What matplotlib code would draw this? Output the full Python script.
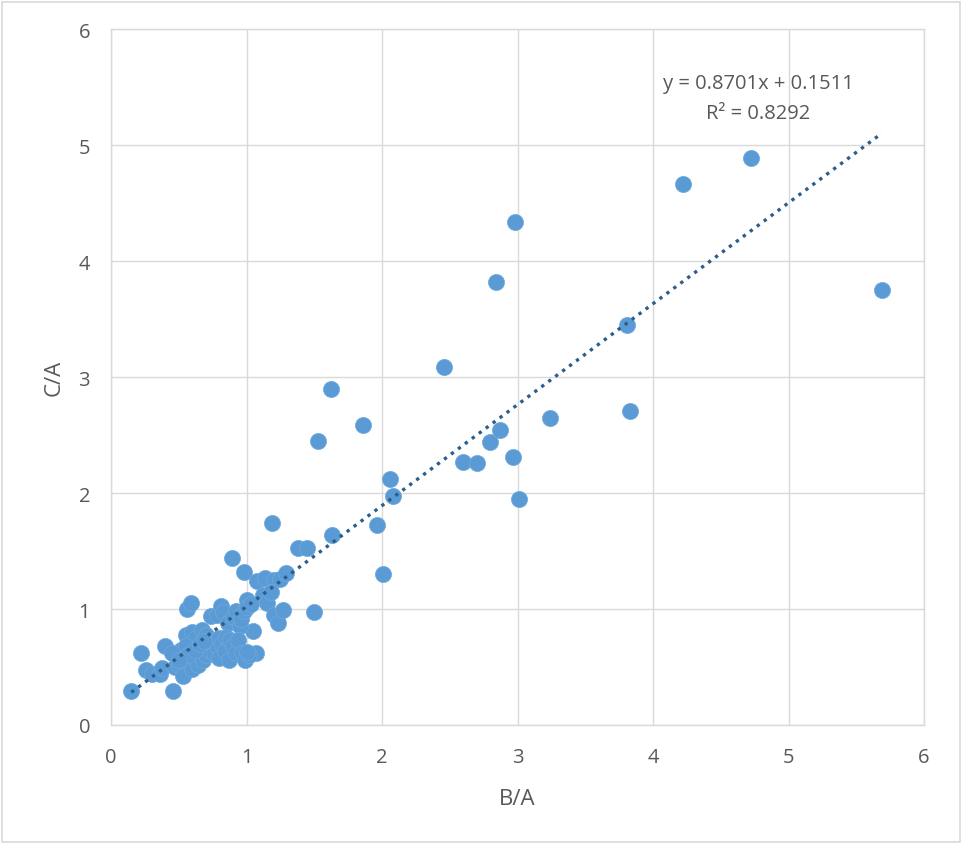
import matplotlib
matplotlib.use("Agg")
import matplotlib.pyplot as plt
from matplotlib.patches import Rectangle
import numpy as np

# Data: B/A (x) and C/A (y)
x_outer = [0.15, 0.22, 0.26, 0.30, 0.36, 0.38, 0.40, 0.46, 0.47, 0.50, 0.53,
           0.56, 0.59, 0.89, 0.98, 1.00, 1.19, 1.08, 1.14, 1.20, 1.25, 1.29,
           1.12, 1.15, 1.18, 1.20, 1.23, 1.27, 1.05, 1.07, 1.38, 1.45, 1.50,
           1.53, 1.62, 1.63, 1.86, 1.96, 2.01, 2.06, 2.08, 2.46, 2.60, 2.70,
           2.80, 2.84, 2.87, 2.97, 2.98, 3.01, 3.24, 3.81, 3.83, 4.22, 4.72, 5.69]
y_outer = [0.29, 0.62, 0.47, 0.44, 0.44, 0.49, 0.68, 0.29, 0.50, 0.52, 0.42,
           1.00, 1.05, 1.44, 1.32, 1.08, 1.74, 1.24, 1.27, 1.25, 1.26, 1.31,
           1.12, 1.05, 1.15, 0.95, 0.88, 0.99, 0.81, 0.62, 1.53, 1.53, 0.97,
           2.45, 2.90, 1.64, 2.59, 1.72, 1.30, 2.12, 1.97, 3.09, 2.27, 2.26,
           2.44, 3.82, 2.54, 2.31, 4.34, 1.95, 2.65, 3.45, 2.71, 4.66, 4.89, 3.75]
x_cluster = [0.55, 0.60, 0.63, 0.67, 0.70, 0.74, 0.78, 0.81, 0.83, 0.86, 0.90,
             0.92, 0.95, 0.96, 0.98, 1.00, 1.03, 0.58, 0.60, 0.62, 0.64, 0.65,
             0.67, 0.68, 0.70, 0.72, 0.73, 0.75, 0.76, 0.78, 0.80, 0.80, 0.82,
             0.84, 0.85, 0.87, 0.88, 0.90, 0.92, 0.94, 0.97, 0.99, 1.02, 0.52,
             0.55, 0.57, 0.45, 0.50, 0.62, 0.66, 0.69, 1.00]
y_cluster = [0.78, 0.80, 0.75, 0.82, 0.78, 0.94, 0.95, 1.03, 0.97, 0.88, 0.93,
             0.98, 0.85, 0.91, 0.98, 1.02, 1.04, 0.55, 0.48, 0.58, 0.52, 0.62,
             0.66, 0.56, 0.60, 0.70, 0.64, 0.72, 0.62, 0.68, 0.75, 0.58, 0.70,
             0.64, 0.76, 0.56, 0.73, 0.68, 0.62, 0.73, 0.62, 0.56, 0.60, 0.65,
             0.68, 0.60, 0.62, 0.56, 0.65, 0.70, 0.72, 0.63]

slope = 0.8701
intercept = 0.1511
r2 = 0.8292
trend_x = [0.15, 5.69]

x_ticks = [0, 1, 2, 3, 4, 5, 6]
y_ticks = [0, 1, 2, 3, 4, 5, 6]

plt.rcParams['font.family'] = ['Open Sans', 'DejaVu Sans']

fig = plt.figure(figsize=(9.63, 8.45), dpi=100)
ax = fig.add_axes([111/963, 119/845, 813/963, 696/845])

grid_c = '#d9d9d9'
text_c = '#595959'

xs = x_outer + x_cluster
ys = y_outer + y_cluster
ax.scatter(xs, ys, s=135, color='#5B9BD5', edgecolors='#6FA8DC', linewidths=0.5, zorder=3)

tx = np.array(trend_x)
ax.plot(tx, slope * tx + intercept, linestyle=(0, (1, 1.6)), color='#2A5E8E',
        linewidth=2.4, zorder=4)

ax.text(4.775, 5.535, f"y = {slope:.4f}x + {intercept:.4f}", ha='center', va='center',
        fontsize=14.5, color=text_c)
ax.text(4.775, 5.275, f"R\u00b2 = {r2:.4f}", ha='center', va='center',
        fontsize=14.5, color=text_c)

ax.set_xlim(0, 6)
ax.set_ylim(0, 6)
ax.set_xticks(x_ticks)
ax.set_yticks(y_ticks)
ax.grid(True, color=grid_c, linewidth=1)
ax.set_axisbelow(True)
for sp in ax.spines.values():
    sp.set_color(grid_c)
    sp.set_linewidth(1)
ax.tick_params(length=0, labelsize=14.5, labelcolor=text_c)
ax.tick_params(axis='x', pad=16)
ax.tick_params(axis='y', pad=15)
ax.set_xlabel('B/A', fontsize=16, color=text_c, labelpad=15)
ax.set_ylabel('C/A', fontsize=16, color=text_c, labelpad=10)

fig.patches.append(Rectangle((2/963, 2/845), 958/963, 840/845, transform=fig.transFigure,
                             fill=False, edgecolor=grid_c, linewidth=1.2))

fig.savefig('out.png', dpi=100)
